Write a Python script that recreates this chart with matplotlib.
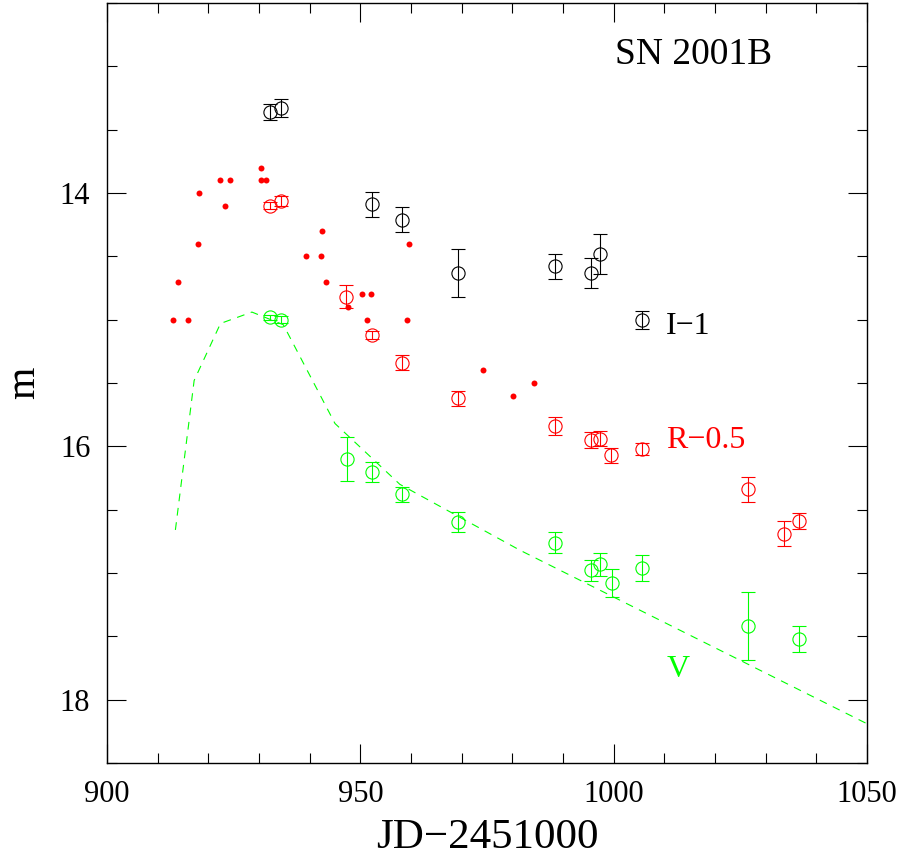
import matplotlib
matplotlib.use('Agg')
import matplotlib.pyplot as plt
from matplotlib.ticker import MultipleLocator

plt.rcParams['font.family'] = ['Liberation Serif', 'DejaVu Serif']

# I-1 band (open circles, black)
jdI   = [932.2, 934.3, 952.3, 958.2, 969.3, 988.4, 995.5, 997.4, 1005.5]
magI  = [13.36, 13.33, 14.09, 14.21, 14.63, 14.58, 14.63, 14.48, 15.00]
errI  = [0.06, 0.07, 0.10, 0.10, 0.19, 0.10, 0.12, 0.16, 0.07]

# R-0.5 band (open circles, red)
jdR   = [932.2, 934.3, 947.2, 952.3, 958.2, 969.3, 988.4, 995.5, 997.4, 999.5, 1005.5, 1026.6, 1033.7, 1036.6]
magR  = [14.10, 14.06, 14.82, 15.12, 15.34, 15.62, 15.84, 15.95, 15.94, 16.07, 16.02, 16.34, 16.69, 16.59]
errR  = [0.03, 0.04, 0.09, 0.03, 0.06, 0.06, 0.07, 0.06, 0.06, 0.06, 0.05, 0.10, 0.10, 0.06]

# other R photometry (filled red dots)
jdRdot  = [913.0, 914.0, 915.9, 917.9, 918.2, 922.4, 923.3, 924.3, 930.4, 930.4, 931.3, 939.3,
           942.2, 942.4, 943.2, 947.6, 950.4, 951.4, 952.2, 959.3, 959.7, 974.3, 980.2, 984.3]
magRdot = [15.0, 14.7, 15.0, 14.4, 14.0, 13.9, 14.1, 13.9, 13.8, 13.9, 13.9, 14.5,
           14.5, 14.3, 14.7, 14.9, 14.8, 15.0, 14.8, 15.0, 14.4, 15.4, 15.6, 15.5]

# V band (open circles, green)
jdV   = [932.2, 934.3, 947.3, 952.3, 958.2, 969.3, 988.5, 995.5, 997.4, 999.6, 1005.5, 1026.6, 1036.6]
magV  = [14.98, 15.00, 16.10, 16.20, 16.38, 16.60, 16.76, 16.98, 16.93, 17.08, 16.96, 17.42, 17.52]
errV  = [0.02, 0.03, 0.17, 0.08, 0.06, 0.08, 0.08, 0.08, 0.09, 0.11, 0.10, 0.27, 0.10]

# V template curve (dashed)
jdTmp  = [913.5, 917.2, 922.4, 928.6, 934.8, 945.0, 957.8, 981.5, 1050.0]
magTmp = [16.66, 15.48, 15.03, 14.94, 15.04, 15.82, 16.30, 16.82, 18.19]

fig = plt.figure(figsize=(9.07, 8.57), dpi=100)
ax = fig.add_axes([107/907, 1-763/857, 760/907, 760/857])

ax.plot(jdTmp, magTmp, color='#00ff00', lw=0.8, dashes=(7, 6))

ebkw = dict(fmt='o', ms=9.5, mfc='none', mew=0.8, elinewidth=0.8, capsize=4.8, capthick=0.8)
ax.errorbar(jdI, magI, yerr=errI, color='black', mec='black', **ebkw)
ax.errorbar(jdR, magR, yerr=errR, color='#ff0000', mec='#ff0000', **ebkw)
ax.errorbar(jdV, magV, yerr=errV, color='#00ff00', mec='#00ff00', **ebkw)
ax.plot(jdRdot, magRdot, 'o', color='#ff0000', ms=4.3, mew=0)

ax.set_xlim(900, 1050)
ax.set_ylim(18.5, 12.5)

ax.xaxis.set_major_locator(MultipleLocator(50))
ax.xaxis.set_minor_locator(MultipleLocator(10))
ax.yaxis.set_major_locator(MultipleLocator(2))
ax.yaxis.set_minor_locator(MultipleLocator(0.5))
ax.tick_params(which='both', direction='in', top=True, right=True, width=0.8)
ax.tick_params(which='major', length=13.7, labelsize=22, pad=12)
ax.tick_params(which='minor', length=7.2)
for s in ax.spines.values():
    s.set_linewidth(1.0)

ax.set_xlabel('JD\u22122451000', fontsize=31, labelpad=7)
ax.set_ylabel('m', fontsize=30, labelpad=12)

ax.text(1000.3, 12.98, 'SN 2001B', fontsize=27, va='baseline', ha='left')
ax.text(1010.3, 15.11, 'I\u22121', fontsize=23, va='baseline', ha='left', color='black')
ax.text(1010.3, 16.01, 'R\u22120.5', fontsize=23, va='baseline', ha='left', color='#ff0000')
ax.text(1010.5, 17.82, 'V', fontsize=23, va='baseline', ha='left', color='#00ff00')

fig.savefig('out.png', dpi=100)
